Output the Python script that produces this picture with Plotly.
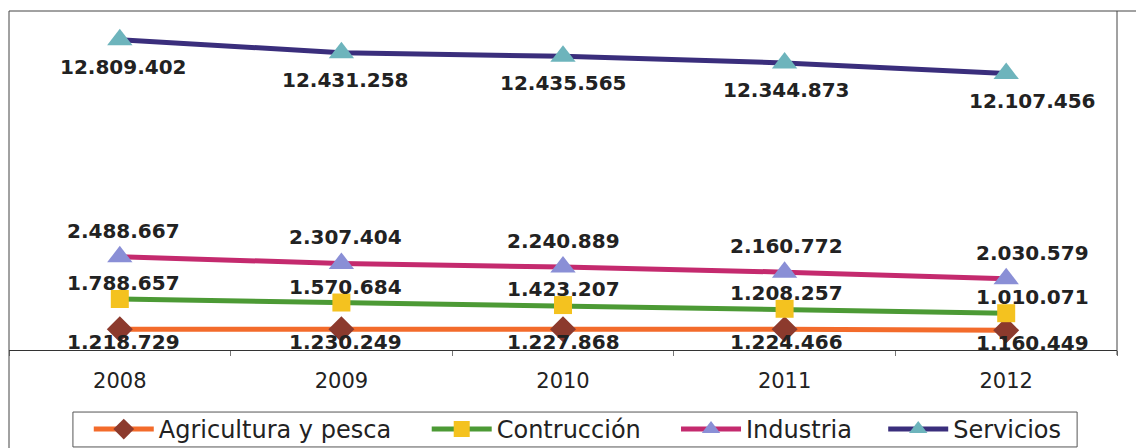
import plotly.graph_objects as go

# 年ごとのデータ（積み上げ折れ線）
years = ["2008", "2009", "2010", "2011", "2012"]
agricultura = [1218729, 1230249, 1227868, 1224466, 1160449]
construccion = [1788657, 1570684, 1423207, 1208257, 1010071]
industria = [2488667, 2307404, 2240889, 2160772, 2030579]
servicios = [12809402, 12431258, 12435565, 12344873, 12107456]

series_names = ["Agricultura y pesca", "Contrucción", "Industria", "Servicios"]
series_values = [agricultura, construccion, industria, servicios]

# 見た目の設定
line_colors = ["#F36B2B", "#4C9A35", "#C42A6E", "#3A2E7C"]
marker_colors = ["#8C3A2D", "#F4C21F", "#8A8FD6", "#6DB4BC"]
marker_symbols = ["diamond", "square", "triangle-up", "triangle-up"]
marker_sizes = [20, 18, 22, 22]
label_yshift = [-13, 16, 26, -27]
label_xshift = [4, 4, 0, 2, 26]
legend_x = [0.072, 0.377, 0.602, 0.789]


def fmt(v):
    return f"{v:,}".replace(",", ".")


fig = go.Figure()

legend_ids = ["legend", "legend2", "legend3", "legend4"]
for i, name in enumerate(series_names):
    fig.add_trace(
        go.Scatter(
            x=years,
            y=series_values[i],
            name=name,
            mode="lines+markers",
            stackgroup="one",
            fill="none",
            legend=legend_ids[i],
            line=dict(color=line_colors[i], width=5),
            marker=dict(
                symbol=marker_symbols[i],
                size=marker_sizes[i],
                color=marker_colors[i],
                line=dict(width=0),
            ),
        )
    )

# データラベル（積み上げ位置に配置）
annotations = []
cum = [0] * len(years)
for i, vals in enumerate(series_values):
    for j in range(len(years)):
        cum[j] += vals[j]
        annotations.append(
            dict(
                x=j,
                y=cum[j],
                xref="x",
                yref="y",
                text="<b>" + fmt(vals[j]) + "</b>",
                showarrow=False,
                xshift=label_xshift[j],
                yshift=label_yshift[i],
                font=dict(family="DejaVu Sans", size=20, color="#222222"),
            )
        )

# 枠線と凡例の枠
shapes = [
    dict(type="line", xref="paper", yref="paper", x0=0, x1=0, y0=1, y1=-0.3,
         line=dict(color="#444444", width=1)),
    dict(type="line", xref="paper", yref="paper", x0=0, x1=1.03, y0=1, y1=1,
         line=dict(color="#444444", width=1)),
    dict(type="line", xref="paper", yref="paper", x0=1, x1=1, y0=1, y1=-0.015,
         line=dict(color="#444444", width=1)),
    dict(type="rect", xref="paper", yref="paper", x0=0.0577, x1=0.964, y0=-0.286, y1=-0.183,
         line=dict(color="#555555", width=1)),
]

legend_style = dict(
    orientation="h",
    xanchor="left",
    y=-0.2345,
    yanchor="middle",
    borderwidth=0,
    bgcolor="rgba(0,0,0,0)",
    itemwidth=60,
    font=dict(family="DejaVu Sans", size=24, color="#222222"),
)

# ページ本体の余白（8px）を考慮した図のサイズ
fig.update_layout(
    width=1136,
    height=440,
    margin=dict(l=1, r=27, t=3, b=98, autoexpand=False),
    paper_bgcolor="white",
    plot_bgcolor="white",
    font=dict(family="DejaVu Sans", color="#222222"),
    annotations=annotations,
    shapes=shapes,
    showlegend=True,
    legend=dict(x=legend_x[0], **legend_style),
    legend2=dict(x=legend_x[1], **legend_style),
    legend3=dict(x=legend_x[2], **legend_style),
    legend4=dict(x=legend_x[3], **legend_style),
    xaxis=dict(
        type="category",
        range=[-0.5, 4.5],
        showline=True,
        linecolor="#333333",
        linewidth=1,
        showgrid=False,
        ticks="outside",
        tickson="boundaries",
        ticklen=5,
        tickcolor="#777777",
        tickfont=dict(size=21, color="#222222"),
        ticklabelstandoff=12,
    ),
    yaxis=dict(
        range=[0, 20000000],
        showticklabels=False,
        showgrid=False,
        zeroline=False,
        showline=False,
    ),
)

fig.write_html("out.html")
